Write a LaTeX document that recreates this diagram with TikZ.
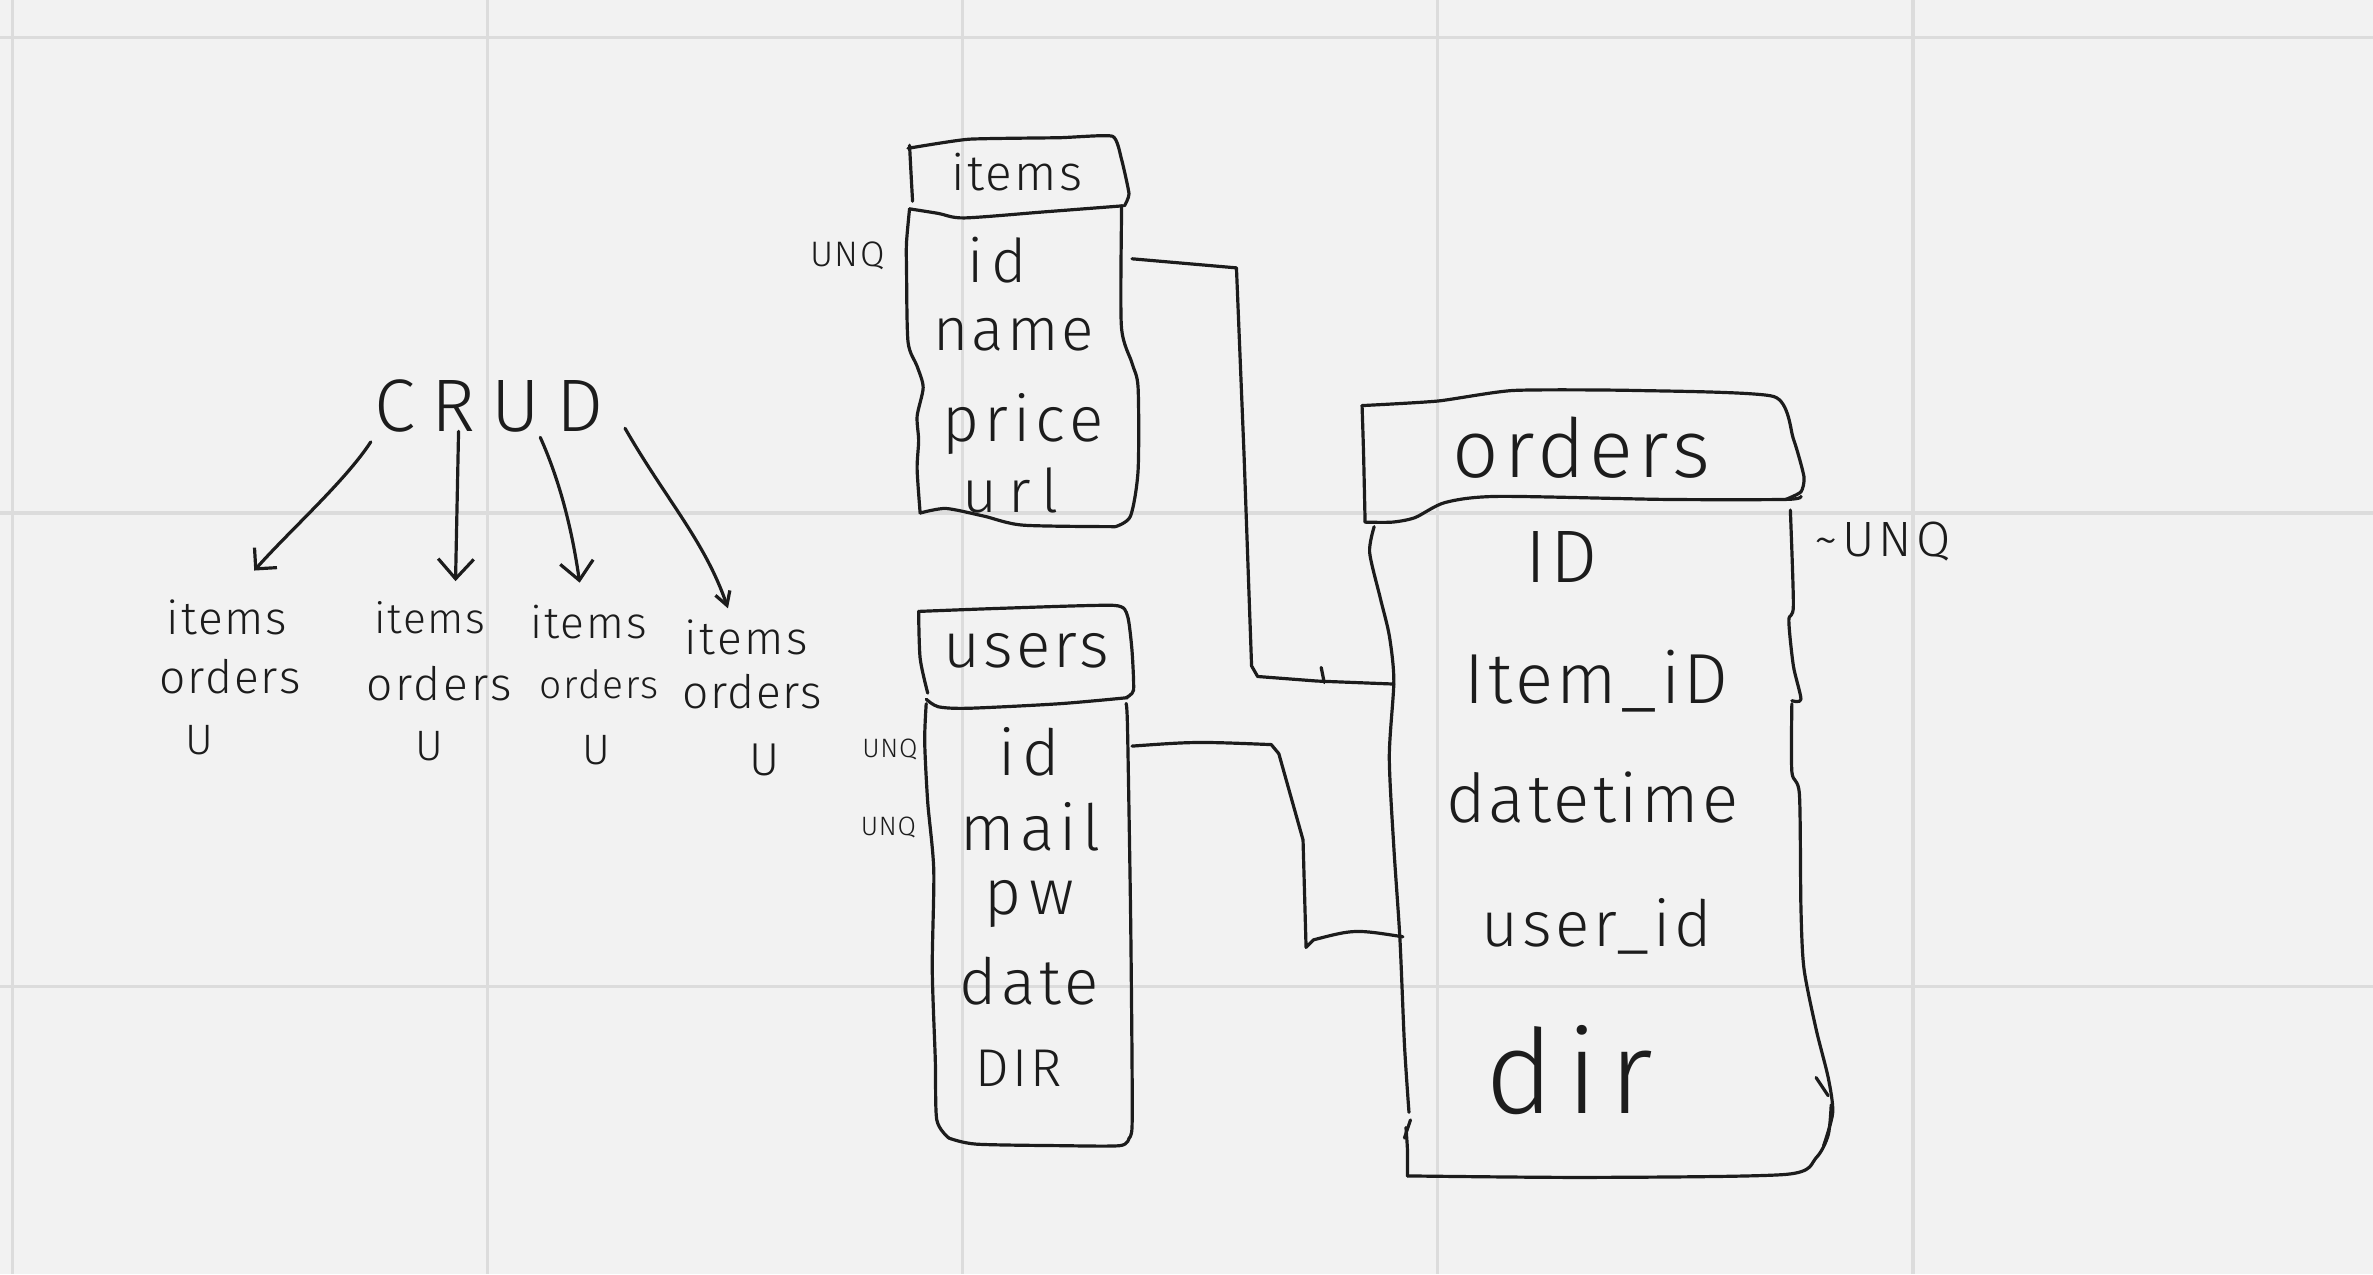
\documentclass[tikz,border=0pt]{standalone}
\usepackage{fontspec}
\setmainfont{Fira Sans Light}
\usetikzlibrary{arrows.meta}
\definecolor{bg}{HTML}{F2F2F2}
\definecolor{gridc}{HTML}{DCDCDC}
\definecolor{ink}{HTML}{1C1C1C}
\newcommand\hwf[2]{\fontsize{#1}{#1}\selectfont\addfontfeature{LetterSpace=#2}}
\begin{document}
\begin{tikzpicture}[x=0.015cm,y=-0.015cm,
  hw/.style={inner sep=0pt, text=ink},
  ln/.style={draw=ink, line width=0.9pt, line cap=round, line join=round},
  sm/.style={smooth, tension=0.45}]
\fill[bg] (0,0) rectangle (1568,842);
\useasboundingbox (0,0) rectangle (1568,842);
\foreach \gx in {8,322,636,950,1264} \draw[gridc, line width=0.9pt] (\gx,0) -- (\gx,842);
\foreach \gy in {25,339,652} \draw[gridc, line width=0.9pt] (0,\gy) -- (1568,\gy);

% ---------- CRUD ----------
\node[hw, font=\hwf{21}{22}] (crud) at (323,268) {CRUD};
\node[hw, font=\hwf{13}{4}] (i1) at (150,408) {items};
\node[hw, font=\hwf{13}{4}] (o1) at (152,447) {orders};
\node[hw, font=\hwf{12}{0}] (u1) at (132,489) {U};
\node[hw, font=\hwf{12}{4}] (i2) at (284,408) {items};
\node[hw, font=\hwf{13}{6}] (o2) at (290,452) {orders};
\node[hw, font=\hwf{12}{0}] (u2) at (284,493) {U};
\node[hw, font=\hwf{12.5}{4}] (i3) at (389,411) {items};
\node[hw, font=\hwf{11}{4}] (o3) at (396,452) {orders};
\node[hw, font=\hwf{12}{0}] (u3) at (394,496) {U};
\node[hw, font=\hwf{13}{6}] (i4) at (493,421) {items};
\node[hw, font=\hwf{13}{3}] (o4) at (497,457) {orders};
\node[hw, font=\hwf{13}{0}] (u4) at (505,502) {U};

\coordinate (a1s) at (245,292); \coordinate (a1e) at (168,377);
\coordinate (a2s) at (303,285); \coordinate (a2e) at (301,384);
\coordinate (a3s) at (357,289); \coordinate (a3e) at (383,385);
\coordinate (a4s) at (413,283); \coordinate (a4e) at (481,402);
\draw[ln, -{Straight Barb[angle=90:6pt]}] (a1s) .. controls (228,318) and (192,350) .. (a1e);
\draw[ln, -{Straight Barb[angle=84:7.5pt]}] (a2s) -- (a2e);
\draw[ln, -{Straight Barb[angle=84:7pt]}] (a3s) .. controls (370,318) and (378,350) .. (a3e);
\draw[ln, -{Straight Barb[angle=60:4.3pt]}] (a4s) .. controls (440,330) and (466,358) .. (a4e);

% ---------- items table ----------
\node[hw, font=\hwf{14}{5}] (itemsh) at (672,114) {items};
\node[hw, font=\hwf{17}{12}] (itemsid) at (659,172) {id};
\node[hw, font=\hwf{17}{5}] (itemsname) at (670,221) {name};
\node[hw, font=\hwf{18}{8}] (itemsprice) at (676,280) {price};
\node[hw, font=\hwf{17}{18}] (itemsurl) at (668,324) {url};
\node[hw, font=\hwf{10}{4}] (unq1) at (560,169) {UNQ};
\draw[ln] plot[sm] coordinates {(603,133) (602,115) (601,96)};
\draw[ln] plot[smooth, tension=0.3] coordinates {(600,98) (640,92) (700,91) (735,90) (741,105) (746,128) (743,136)};
\draw[ln] plot[sm] coordinates {(601,138) (620,141) (637,144) (690,140) (742,136)};
\draw[ln] plot[sm] coordinates {(601,138) (599,160) (599,178) (600,226) (606,242) (610,256) (606,275) (607,291) (606,310) (608,339)};
\draw[ln] plot[sm] coordinates {(608,339) (625,336) (650,341) (676,347) (737,348)};
\draw[ln] plot[sm] coordinates {(741,136) (741,145) (741,216) (748,240) (752,256) (752,311) (747,341) (737,348)};

% ---------- users table ----------
\node[hw, font=\hwf{18}{5}] (usersh) at (678,430) {users};
\node[hw, font=\hwf{18}{12}] (usersid) at (680,497) {id};
\node[hw, font=\hwf{18}{8}] (usersmail) at (681,546) {mail};
\node[hw, font=\hwf{18}{12}] (userspw) at (680,597) {pw};
\node[hw, font=\hwf{18}{6}] (usersdate) at (680,648) {date};
\node[hw, font=\hwf{15}{6}] (usersdir) at (673,706) {DIR};
\node[hw, font=\hwf{7.5}{3}] (unq2) at (588,495) {UNQ};
\node[hw, font=\hwf{7.5}{3}] (unq3) at (587,547) {UNQ};
\draw[ln] plot[sm] coordinates {(613,458) (608,435) (607,404)};
\draw[ln] plot[smooth, tension=0.35] coordinates {(607,404) (660,402) (736,400) (745,407) (748,430) (749,456) (744,461)};
\draw[ln] plot[sm] coordinates {(612,462) (620,467) (640,468) (700,465) (745,461)};
\draw[ln] plot[sm] coordinates {(612,465) (611,490) (613,530) (617,575) (616,640) (618,700) (619,740) (627,752)};
\draw[ln] plot[sm] coordinates {(627,752) (645,756) (700,757) (740,757) (746,752)};
\draw[ln] plot[sm] coordinates {(744,465) (745,480) (747,600) (748,700) (748,745) (746,752)};

% ---------- orders table ----------
\node[hw, font=\hwf{23}{6}] (ordersh) at (1045,296) {orders};
\node[hw, font=\hwf{21}{6}] (ordersid) at (1032,368) {ID};
\node[hw, font=\hwf{20}{5}] (ordersitem) at (1055,450) {Item\_iD};
\node[hw, font=\hwf{19}{5}] (ordersdt) at (1052,527) {datetime};
\node[hw, font=\hwf{18}{6}] (ordersuser) at (1055,612) {user\_id};
\node[hw, font=\hwf{33}{10}] (ordersdir) at (1037,707) {dir};
\node[hw, font=\hwf{14}{8}] (unq4) at (1244,358) {\textasciitilde UNQ};
\draw[ln] plot[sm] coordinates {(902,345) (901,300) (900,268)};
\draw[ln] plot[smooth, tension=0.35] coordinates {(900,268) (950,265) (1000,258) (1080,258) (1172,262) (1185,290) (1192,315) (1190,325) (1180,330)};
\draw[ln] plot[sm] coordinates {(902,345) (920,345) (935,342) (955,332) (990,328) (1100,330) (1180,330) (1190,328)};
\draw[ln] plot[sm] coordinates {(908,348) (905,365) (912,395) (918,420) (921,450) (918,500) (921,560) (925,620) (928,690) (931,735)};
\draw[ln] (932,740) -- (928,752);
\draw[ln] plot[sm] coordinates {(929,745) (930,760) (930,777)};
\draw[ln] plot[sm] coordinates {(930,777) (1050,778) (1180,776) (1200,765) (1208,750) (1210,730)};
\draw[ln] plot[sm] coordinates {(1183,337) (1185,400) (1182,410) (1185,440) (1190,462) (1184,463)};
\draw[ln] plot[sm] coordinates {(1184,465) (1184,510) (1189,525) (1190,600) (1192,640) (1200,680) (1208,712) (1211,735) (1205,757)};
\draw[ln] (1200,712) -- (1208,724);

% ---------- connectors ----------
\coordinate (c_itemsid) at (748,171);
\coordinate (c_ordersitem) at (921,452);
\draw[ln] (c_itemsid) -- (817,177) -- (822,300) -- (827,440) -- (831,447) -- (870,450) -- (c_ordersitem);
\draw[ln] (873,441) -- (875,451);
\coordinate (c_usersid) at (748,493);
\coordinate (c_ordersuser) at (927,619);
\draw[ln] (c_usersid) .. controls (790,490) .. (840,492) -- (845,498) -- (861,555) -- (863,626) -- (868,621) .. controls (895,614) .. (c_ordersuser);
\end{tikzpicture}
\end{document}
